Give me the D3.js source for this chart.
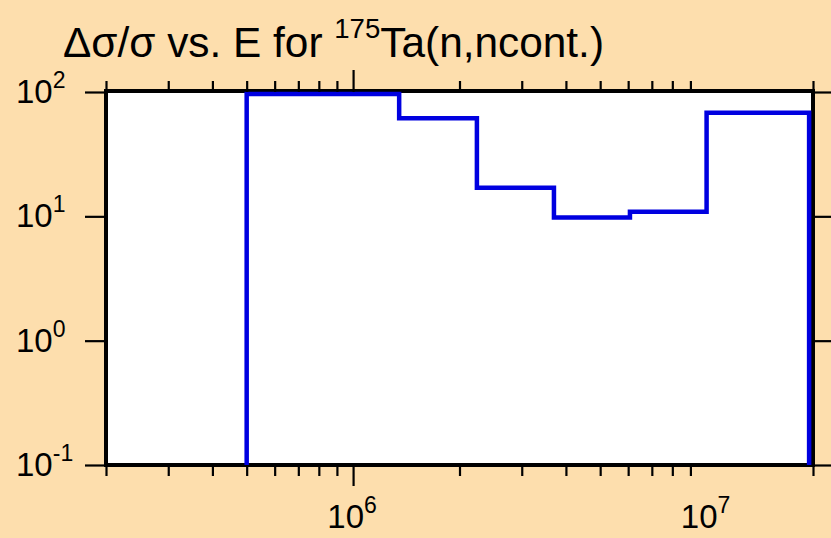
<!DOCTYPE html>
<html><head><meta charset="utf-8">
<script src="https://cdn.jsdelivr.net/npm/d3@7"></script>
<style>
html,body{margin:0;padding:0;background:#FDDEAD;}
svg{display:block;}
text{font-family:Arial,"Liberation Sans",Helvetica,sans-serif;fill:#000;}
</style></head>
<body>
<script>
// Data: group boundaries (eV) and relative uncertainty (%) per group
const energyEdges = [5e5, 1.35e6, 2.24e6, 3.7e6, 6.07e6, 1e7, 1.95e7];
const relUncert = [100, 61.5, 17, 9.8, 10.9, 68];
const yFloor = 0.1;
const xTickExps = [6, 7];
const yTickExps = [2, 1, 0, -1];
const titleMain = "Δσ/σ vs. E for ";
const titleSup = "175";
const titleRest = "Ta(n,ncont.)";

const W = 831, H = 538;
const m = {l:106, r:813, t:92, b:465};
const svg = d3.select("body").append("svg").attr("width", W).attr("height", H);
svg.append("rect").attr("width", W).attr("height", H).attr("fill", "#FDDEAD");

const x = d3.scaleLog().domain([2e5, 2e7]).range([m.l, m.r]);
const y = d3.scaleLog().domain([0.1, 100]).range([m.b, m.t]);

// plot area
svg.append("rect").attr("x", m.l).attr("y", m.t).attr("width", m.r - m.l).attr("height", m.b - m.t).attr("fill", "#fff");

// frame
svg.append("rect").attr("x", m.l).attr("y", m.t - 1).attr("width", m.r - m.l).attr("height", m.b - m.t + 1)
  .attr("fill", "none").attr("stroke", "#000").attr("stroke-width", 4);

// step line (drawn over the frame)
const pts = [[energyEdges[0], yFloor]];
relUncert.forEach((v, i) => { pts.push([energyEdges[i], v]); pts.push([energyEdges[i+1], v]); });
pts.push([energyEdges[energyEdges.length-1], yFloor]);
svg.append("path").datum(pts)
  .attr("d", d3.line().x(d => x(d[0])).y(d => y(d[1]) + (d[1] >= 100 ? 2 : 0)))
  .attr("fill", "none").attr("stroke", "#0000E0").attr("stroke-width", 4.5).attr("stroke-linejoin", "miter");

// x ticks (top and bottom, outward)
const xt = [];
[5, 6].forEach(e => { for (let k = 1; k <= 9; k++) { const v = k * Math.pow(10, e); if (v >= 2e5 && v <= 2e7) xt.push(v); } });
xt.push(2e7);
const isMajor = v => Math.abs(Math.log10(v) - Math.round(Math.log10(v))) < 1e-9;
const gb = svg.append("g").attr("transform", `translate(0,${m.b})`)
  .call(d3.axisBottom(x).tickValues(xt).tickFormat("").tickSizeOuter(0).tickSizeInner(10));
const gt = svg.append("g").attr("transform", `translate(0,${m.t})`)
  .call(d3.axisTop(x).tickValues(xt).tickFormat("").tickSizeOuter(0).tickSizeInner(10));
[gb, gt].forEach(g => {
  g.select(".domain").remove();
  g.selectAll(".tick line").attr("stroke", "#000").attr("stroke-width", 2.2);
});
gb.selectAll(".tick line").attr("y2", d => isMajor(d) ? 21 : 11);
gt.selectAll(".tick line").attr("y2", d => isMajor(d) ? -22 : -11);

// y ticks (left and right, outward)
const yt = yTickExps.map(e => Math.pow(10, e));
const gl = svg.append("g").attr("transform", `translate(${m.l},0)`)
  .call(d3.axisLeft(y).tickValues(yt).tickFormat("").tickSizeOuter(0).tickSizeInner(21));
const gr = svg.append("g").attr("transform", `translate(${m.r},0)`)
  .call(d3.axisRight(y).tickValues(yt).tickFormat("").tickSizeOuter(0).tickSizeInner(21));
[gl, gr].forEach(g => { g.select(".domain").remove(); g.selectAll(".tick line").attr("stroke", "#000").attr("stroke-width", 2.2); });

// labels with superscripts
function powLabel(g, xPos, yBase, exp, anchor) {
  const t = g.append("text").attr("x", xPos).attr("y", yBase).attr("text-anchor", anchor).style("font-size", "33px");
  t.append("tspan").text("10");
  t.append("tspan").attr("dy", -15).style("font-size", "23px").text(String(exp));
  return t;
}
yTickExps.forEach(e => powLabel(svg, 16, y(Math.pow(10, e)) + 11, e, "start"));
xTickExps.forEach(e => powLabel(svg, x(Math.pow(10, e)) - 1, 528, e, "middle"));

// title
const tt = svg.append("text").attr("x", 63).attr("y", 57).style("font-size", "43px");
tt.append("tspan").text(titleMain);
tt.append("tspan").attr("dy", -19).style("font-size", "28px").text(titleSup);
tt.append("tspan").attr("dy", 19).text(titleRest);
tt.attr("textLength", 541).attr("lengthAdjust", "spacingAndGlyphs");
</script>
</body></html>
